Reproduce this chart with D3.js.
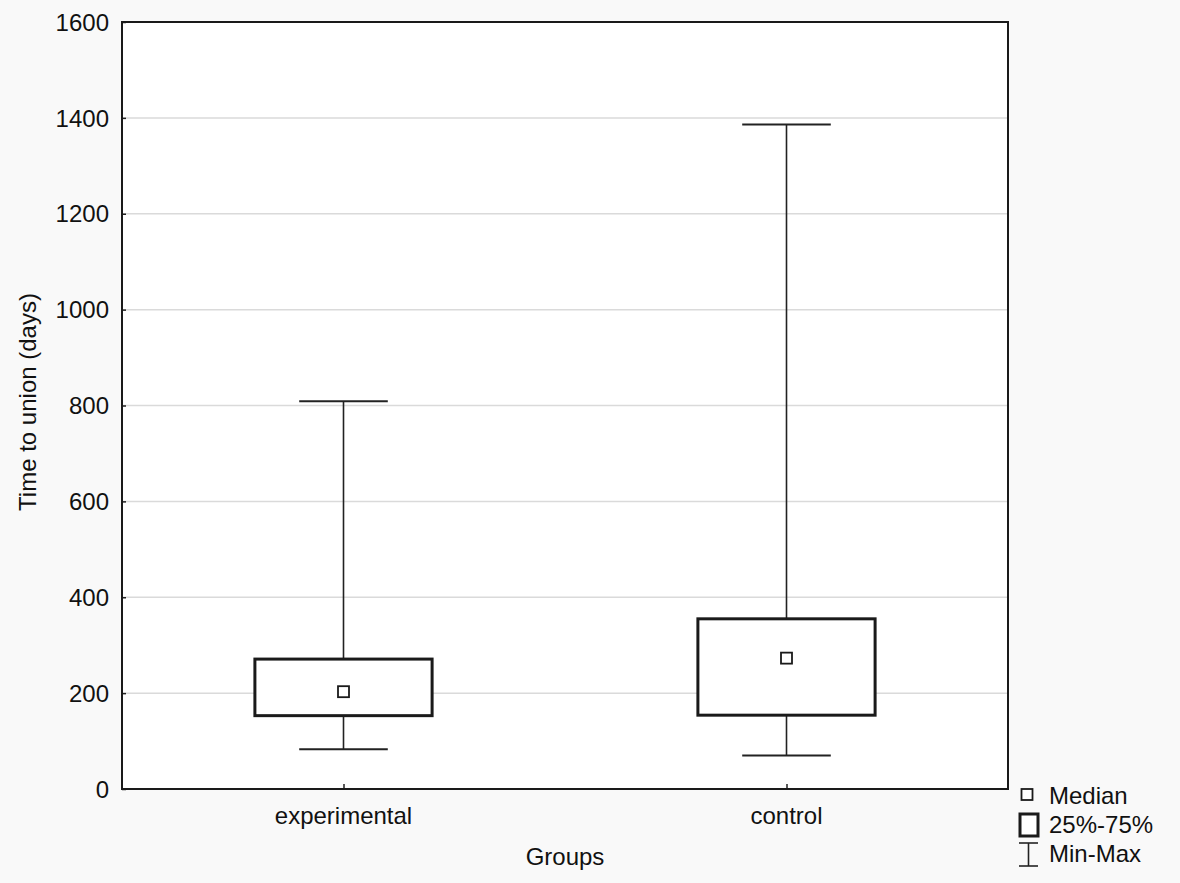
<!DOCTYPE html>
<html lang="en">
<head>
  <meta charset="UTF-8">
  <title>Time to union box plot</title>
  <style>
    body {
      margin: 0;
      padding: 0;
      background-color: #f9f9f9;
      font-family: Arial, "Liberation Sans", sans-serif;
    }
    svg text {
      fill: #111;
      font-size: 24px;
    }
  </style>
</head>
<body>
  <svg id="chart"></svg>

  <script src="https://d3js.org/d3.v7.min.js"></script>
  <script>
    const width = 1180;
    const height = 883;

    // data
    const groups = ["experimental", "control"];
    const minValues = [83, 70];
    const q1Values = [153, 154];
    const medianValues = [203, 273];
    const q3Values = [271, 355];
    const maxValues = [809, 1386];
    const yTicks = [0, 200, 400, 600, 800, 1000, 1200, 1400, 1600];
    const legendLabels = ["Median", "25%-75%", "Min-Max"];

    const margin = { top: 22, right: 172, bottom: 94, left: 122 };
    const plotW = width - margin.left - margin.right;
    const plotH = height - margin.top - margin.bottom;

    const svg = d3.select("#chart").attr("width", width).attr("height", height);

    const x = d3.scalePoint()
      .domain(groups)
      .range([margin.left, margin.left + plotW])
      .padding(0.5);

    const y = d3.scaleLinear()
      .domain([0, 1600])
      .range([margin.top + plotH, margin.top]);

    // plot background
    svg.append("rect")
      .attr("x", margin.left)
      .attr("y", margin.top)
      .attr("width", plotW)
      .attr("height", plotH)
      .attr("fill", "#ffffff");

    // gridlines
    svg.append("g")
      .selectAll("line")
      .data(yTicks.filter(d => d > 0 && d < 1600))
      .enter().append("line")
      .attr("x1", margin.left)
      .attr("x2", margin.left + plotW)
      .attr("y1", d => y(d))
      .attr("y2", d => y(d))
      .attr("stroke", "#dadada")
      .attr("stroke-width", 1.5);

    // y axis (ticks pointing inward)
    const yAxis = svg.append("g")
      .attr("transform", `translate(${margin.left},0)`)
      .call(d3.axisRight(y).tickValues(yTicks).tickSize(4).tickFormat(""));
    yAxis.select(".domain").remove();
    yAxis.selectAll("line").attr("stroke", "#222").attr("stroke-width", 1.5);

    svg.append("g")
      .selectAll("text")
      .data(yTicks)
      .enter().append("text")
      .attr("x", margin.left - 13)
      .attr("y", d => y(d))
      .attr("dy", "0.36em")
      .attr("text-anchor", "end")
      .text(d => d);

    // x axis (ticks pointing inward)
    const xAxis = svg.append("g")
      .attr("transform", `translate(0,${margin.top + plotH})`)
      .call(d3.axisTop(x).tickSize(5).tickFormat(""));
    xAxis.select(".domain").remove();
    xAxis.selectAll("line").attr("stroke", "#222").attr("stroke-width", 1.5);

    svg.append("g")
      .selectAll("text")
      .data(groups)
      .enter().append("text")
      .attr("x", d => x(d))
      .attr("y", 824)
      .attr("text-anchor", "middle")
      .text(d => d);

    // box plot
    const boxW = plotW * 0.2;
    const capW = plotW * 0.1;

    const g = svg.append("g");
    groups.forEach((grp, i) => {
      const cx = x(grp);

      g.append("line")
        .attr("x1", cx).attr("x2", cx)
        .attr("y1", y(maxValues[i])).attr("y2", y(q3Values[i]))
        .attr("stroke", "#222").attr("stroke-width", 1.6);
      g.append("line")
        .attr("x1", cx).attr("x2", cx)
        .attr("y1", y(q1Values[i])).attr("y2", y(minValues[i]))
        .attr("stroke", "#222").attr("stroke-width", 1.6);

      [maxValues[i], minValues[i]].forEach(v => {
        g.append("line")
          .attr("x1", cx - capW / 2).attr("x2", cx + capW / 2)
          .attr("y1", y(v)).attr("y2", y(v))
          .attr("stroke", "#222").attr("stroke-width", 2);
      });

      g.append("rect")
        .attr("x", cx - boxW / 2)
        .attr("y", y(q3Values[i]))
        .attr("width", boxW)
        .attr("height", y(q1Values[i]) - y(q3Values[i]))
        .attr("fill", "#fff")
        .attr("stroke", "#1a1a1a")
        .attr("stroke-width", 3);

      g.append("rect")
        .attr("x", cx - 5.5)
        .attr("y", y(medianValues[i]) - 5.5)
        .attr("width", 11)
        .attr("height", 11)
        .attr("fill", "#fff")
        .attr("stroke", "#1a1a1a")
        .attr("stroke-width", 1.8);
    });

    // frame
    svg.append("rect")
      .attr("x", margin.left)
      .attr("y", margin.top)
      .attr("width", plotW)
      .attr("height", plotH)
      .attr("fill", "none")
      .attr("stroke", "#1a1a1a")
      .attr("stroke-width", 2);

    // axis titles
    svg.append("text")
      .attr("transform", `translate(36,402) rotate(-90)`)
      .attr("text-anchor", "middle")
      .text("Time to union (days)");

    svg.append("text")
      .attr("x", margin.left + plotW / 2)
      .attr("y", 865)
      .attr("text-anchor", "middle")
      .text("Groups");

    // legend
    const lg = svg.append("g");
    const lx = 1049;
    const baselines = [804, 833, 862];

    lg.append("rect")
      .attr("x", 1021.5).attr("y", 789)
      .attr("width", 11).attr("height", 11)
      .attr("fill", "#fff").attr("stroke", "#1a1a1a").attr("stroke-width", 1.8);

    lg.append("rect")
      .attr("x", 1020).attr("y", 814)
      .attr("width", 18).attr("height", 22)
      .attr("fill", "#fff").attr("stroke", "#1a1a1a").attr("stroke-width", 3);

    lg.append("line")
      .attr("x1", 1028.5).attr("x2", 1028.5)
      .attr("y1", 843).attr("y2", 866)
      .attr("stroke", "#222").attr("stroke-width", 1.6);
    [843, 866].forEach(yy => {
      lg.append("line")
        .attr("x1", 1019).attr("x2", 1038)
        .attr("y1", yy).attr("y2", yy)
        .attr("stroke", "#222").attr("stroke-width", 1.6);
    });

    lg.selectAll("text")
      .data(legendLabels)
      .enter().append("text")
      .attr("x", lx)
      .attr("y", (d, i) => baselines[i])
      .text(d => d);
  </script>
</body>
</html>
